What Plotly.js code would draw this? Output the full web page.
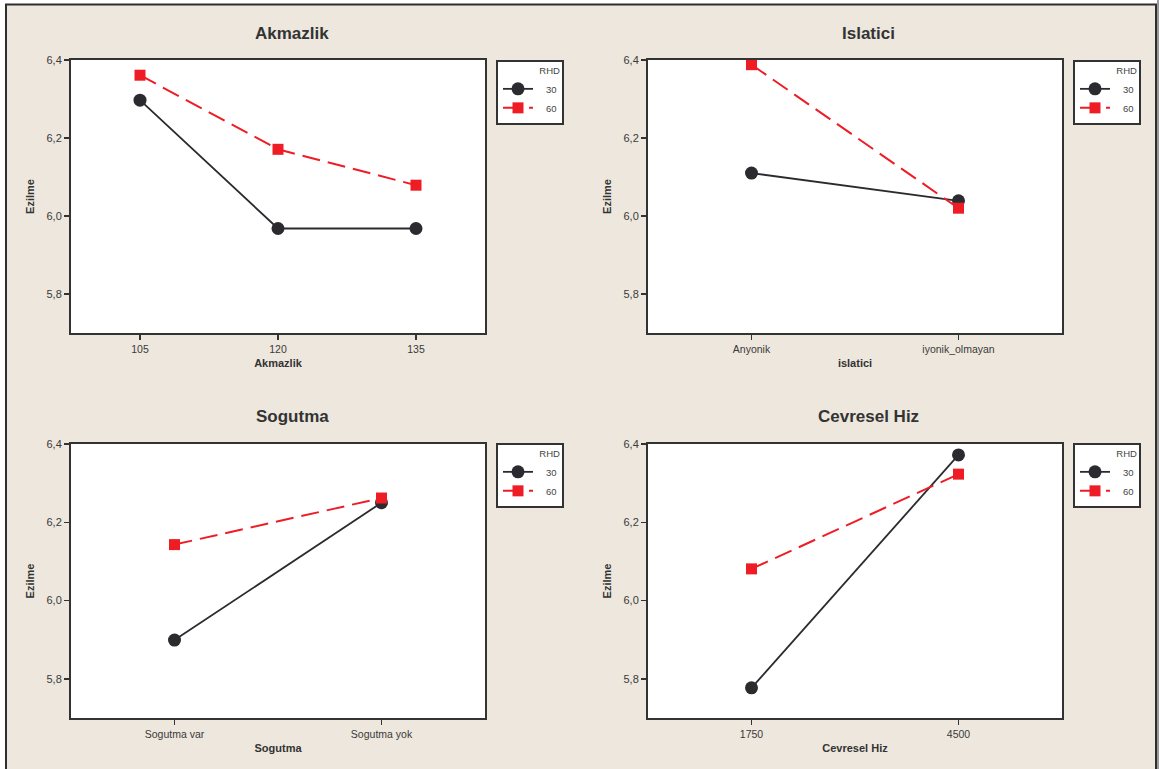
<!DOCTYPE html>
<html>
<head>
<meta charset="utf-8">
<script src="https://cdn.plot.ly/plotly-3.0.1.min.js"></script>
<style>
html,body{margin:0;padding:0;background:#ffffff;}
#chart{width:1159px;height:769px;}
</style>
</head>
<body>
<div id="chart"></div>
<script>
// ---- data ----
const rhdLabels = ['30', '60'];
const yTickVals = [5.8, 6.0, 6.2, 6.4];

const akmazlikCats = ['105', '120', '135'];
const akmazlik30 = [6.297, 5.968, 5.968];
const akmazlik60 = [6.361, 6.171, 6.079];

const islaticiCats = ['Anyonik', 'iyonik_olmayan'];
const islatici30 = [6.110, 6.039];
const islatici60 = [6.388, 6.020];

const sogutmaCats = ['Sogutma var', 'Sogutma yok'];
const sogutma30 = [5.899, 6.250];
const sogutma60 = [6.143, 6.262];

const cevreselCats = ['1750', '4500'];
const cevresel30 = [5.777, 6.372];
const cevresel60 = [6.081, 6.323];

const panelTitles = ['Akmazlik', 'Islatici', 'Sogutma', 'Cevresel Hiz'];
const xTitles = ['Akmazlik', 'islatici', 'Sogutma', 'Cevresel Hiz'];
const yTitle = 'Ezilme';

// ---- styling ----
const W = 1159, H = 769;
const dark = '#2b2b2f';
const red = '#ee1d25';
const axisCol = '#333333';
const beige = '#ede7dd';
const FONT = 'Liberation Sans, Arial, sans-serif';
const PAD = '\u00a0\u00a0\u00a0';

const panels = [
  {cats: akmazlikCats, s30: akmazlik30, s60: akmazlik60},
  {cats: islaticiCats, s30: islatici30, s60: islatici60},
  {cats: sogutmaCats, s30: sogutma30, s60: sogutma60},
  {cats: cevreselCats, s30: cevresel30, s60: cevresel60}
];

// pixel boxes of plot areas
const boxes = [
  {x0: 71, x1: 485, y0: 60, y1: 333},
  {x0: 648, x1: 1062, y0: 60, y1: 333},
  {x0: 71, x1: 485, y0: 444, y1: 718},
  {x0: 648, x1: 1062, y0: 444, y1: 718}
];
const legendPos = [
  {x: 496, y: 60}, {x: 1073, y: 60}, {x: 496, y: 443}, {x: 1073, y: 443}
];
const titlePos = [
  {x: 292, y: 33}, {x: 868, y: 33}, {x: 292, y: 416}, {x: 868, y: 416}
];

const traces = [];
const layout = {
  width: W, height: H,
  margin: {l: 0, r: 0, t: 0, b: 0},
  paper_bgcolor: beige,
  plot_bgcolor: '#ffffff',
  separators: ',.',
  font: {family: FONT, color: axisCol},
  showlegend: true,
  shapes: [
    {type: 'rect', xref: 'paper', yref: 'paper', layer: 'below',
     x0: 0, x1: 6 / W, y0: 0, y1: 1, fillcolor: '#ffffff', line: {width: 0}},
    {type: 'rect', xref: 'paper', yref: 'paper', layer: 'below',
     x0: 0, x1: 1, y0: 1 - 4.5 / H, y1: 1, fillcolor: '#ffffff', line: {width: 0}},
    {type: 'rect', xref: 'paper', yref: 'paper', layer: 'below',
     x0: 1157 / W, x1: 1, y0: 0, y1: 1, fillcolor: '#9a9a9a', line: {width: 0}},
    {type: 'rect', xref: 'paper', yref: 'paper', layer: 'below',
     x0: 6 / W, x1: 1156 / W, y0: -0.05, y1: 1 - 4.5 / H,
     fillcolor: 'rgba(0,0,0,0)', line: {color: '#2e2e30', width: 2}}
  ],
  annotations: []
};

panels.forEach((p, i) => {
  const n = i + 1;
  const xa = 'x' + (n === 1 ? '' : n);
  const ya = 'y' + (n === 1 ? '' : n);
  const lg = 'legend' + (n === 1 ? '' : n);
  traces.push({
    type: 'scatter', mode: 'lines+markers',
    x: p.cats, y: p.s30, name: PAD + rhdLabels[0],
    xaxis: xa, yaxis: ya, legend: lg,
    line: {color: dark, width: 1.8},
    marker: {symbol: 'circle', size: 13, color: dark}
  });
  traces.push({
    type: 'scatter', mode: 'lines+markers',
    x: p.cats, y: p.s60, name: PAD + rhdLabels[1],
    xaxis: xa, yaxis: ya, legend: lg,
    line: {color: red, width: 2, dash: '18px,8px'},
    marker: {symbol: 'square', size: 11, color: red}
  });

  const b = boxes[i];
  const axKeyX = 'xaxis' + (n === 1 ? '' : n);
  const axKeyY = 'yaxis' + (n === 1 ? '' : n);
  layout[axKeyX] = {
    type: 'category',
    domain: [b.x0 / W, b.x1 / W],
    anchor: ya,
    range: [-0.5, p.cats.length - 0.5],
    showline: true, mirror: true, linecolor: axisCol, linewidth: 2,
    ticks: 'outside', ticklen: 5, tickwidth: 1.5, tickcolor: axisCol,
    showgrid: false, zeroline: false,
    tickfont: {size: 10.5, color: '#3a3a3a', family: FONT},
    title: {text: xTitles[i], standoff: 6, font: {size: 11, color: '#333', family: FONT, weight: 'bold'}},
    fixedrange: true
  };
  layout[axKeyY] = {
    domain: [1 - b.y1 / H, 1 - b.y0 / H],
    anchor: xa,
    range: [5.7, 6.4],
    tickvals: yTickVals, tickformat: '.1f',
    showline: true, mirror: true, linecolor: axisCol, linewidth: 2,
    ticks: 'outside', ticklen: 5, tickwidth: 1.5, tickcolor: axisCol,
    showgrid: false, zeroline: false,
    tickfont: {size: 11, color: '#3a3a3a', family: FONT},
    title: {text: yTitle, standoff: 10, font: {size: 11, color: '#333', family: FONT, weight: 'bold'}},
    fixedrange: true
  };
  layout[lg] = {
    x: legendPos[i].x / W, y: 1 - legendPos[i].y / H,
    xanchor: 'left', yanchor: 'top',
    bgcolor: '#ffffff', bordercolor: axisCol, borderwidth: 2,
    font: {size: 9.5, color: '#444', family: FONT},
    title: {text: 'RHD', side: 'top right', font: {size: 9.5, color: '#444', family: FONT}},
    itemwidth: 30,
    tracegroupgap: 0
  };
  layout.annotations.push({
    xref: 'paper', yref: 'paper',
    x: titlePos[i].x / W, y: 1 - titlePos[i].y / H,
    xanchor: 'center', yanchor: 'middle',
    text: '<b>' + panelTitles[i] + '</b>', showarrow: false,
    font: {size: 17, color: '#333', family: FONT}
  });
});

Plotly.newPlot('chart', traces, layout, {displayModeBar: false, staticPlot: true});
</script>
</body>
</html>
